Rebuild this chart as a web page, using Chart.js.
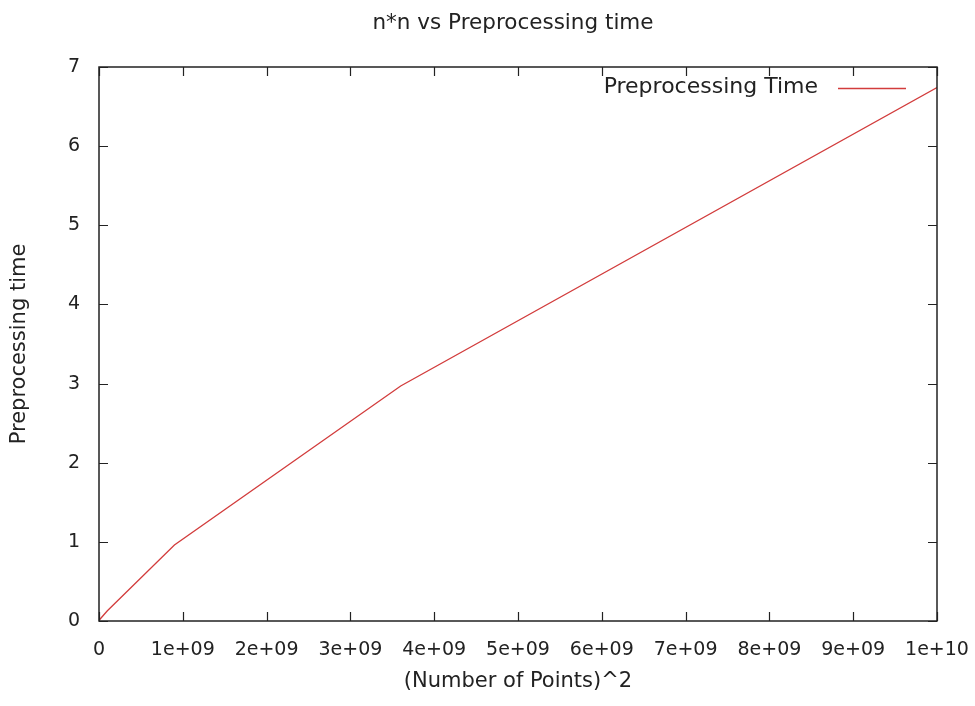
<!DOCTYPE html>
<html>
<head>
<meta charset="utf-8">
<title>n*n vs Preprocessing time</title>
<script src="https://cdn.jsdelivr.net/npm/chart.js@4/dist/chart.umd.min.js"></script>
<style>
  html, body { margin: 0; padding: 0; background: #fff; }
  #wrap { width: 975px; height: 706px; }
</style>
</head>
<body>
<div id="wrap"><canvas id="c" width="975" height="706"></canvas></div>
<script>
// Number of points squared vs measured preprocessing time
const nSquared = [1e6, 1e8, 9e8, 3.6e9, 1e10];
const prepTime = [0.01, 0.13, 0.96, 2.97, 6.74];

const xTickLabels = ['0', '1e+09', '2e+09', '3e+09', '4e+09', '5e+09', '6e+09', '7e+09', '8e+09', '9e+09', '1e+10'];
const yTickLabels = ['0', '1', '2', '3', '4', '5', '6', '7'];

const chartTitle = 'n*n vs Preprocessing time';
const seriesName = 'Preprocessing Time';
const lineColor = '#d23c3c';
const inkColor = '#222222';
const fontFamily = '"DejaVu Sans", "Liberation Sans", Arial, sans-serif';

// gnuplot-style frame with inward ticks mirrored on all four sides
const framePlugin = {
  id: 'frame',
  afterDraw(chart) {
    const { ctx, chartArea: a, scales } = chart;
    const len = 9;
    ctx.save();
    ctx.strokeStyle = inkColor;
    ctx.lineWidth = 1.5;
    ctx.strokeRect(a.left, a.top, a.right - a.left, a.bottom - a.top);
    ctx.lineWidth = 1.2;
    ctx.beginPath();
    scales.x.ticks.forEach(t => {
      const px = Math.round(scales.x.getPixelForValue(t.value)) + 0.5;
      ctx.moveTo(px, a.bottom); ctx.lineTo(px, a.bottom - len);
      ctx.moveTo(px, a.top); ctx.lineTo(px, a.top + len);
    });
    scales.y.ticks.forEach(t => {
      const py = Math.round(scales.y.getPixelForValue(t.value)) + 0.5;
      ctx.moveTo(a.left, py); ctx.lineTo(a.left + len, py);
      ctx.moveTo(a.right, py); ctx.lineTo(a.right - len, py);
    });
    ctx.stroke();
    ctx.restore();
  }
};

// title centred over the plot box, plus the key in its top-right corner
const labelsPlugin = {
  id: 'labels',
  afterDraw(chart) {
    const { ctx, chartArea: a } = chart;
    const ds = chart.data.datasets[0];
    ctx.save();
    ctx.fillStyle = inkColor;
    ctx.textBaseline = 'middle';

    ctx.font = '21.5px ' + fontFamily;
    ctx.textAlign = 'center';
    ctx.fillText(chartTitle, (a.left + a.right) / 2 - 5, 23);

    const lineEnd = a.right - 31;
    const lineStart = lineEnd - 68;
    const y = a.top + 21;
    ctx.font = '22px ' + fontFamily;
    ctx.textAlign = 'right';
    ctx.fillText(ds.label, lineStart - 20, y - 1);
    ctx.strokeStyle = ds.borderColor;
    ctx.lineWidth = ds.borderWidth;
    ctx.beginPath();
    ctx.moveTo(lineStart, y + 0.5);
    ctx.lineTo(lineEnd, y + 0.5);
    ctx.stroke();
    ctx.restore();
  }
};

new Chart(document.getElementById('c'), {
  type: 'line',
  data: {
    datasets: [{
      label: seriesName,
      data: nSquared.map((x, i) => ({ x: x, y: prepTime[i] })),
      borderColor: lineColor,
      borderWidth: 1.3,
      pointRadius: 0,
      tension: 0,
      fill: false
    }]
  },
  options: {
    responsive: false,
    animation: false,
    devicePixelRatio: 1,
    layout: { padding: { left: 0, right: 38, top: 67, bottom: 0 } },
    plugins: {
      legend: { display: false },
      tooltip: { enabled: false },
      title: { display: false }
    },
    scales: {
      x: {
        type: 'linear',
        min: 0,
        max: 1e10,
        afterFit(scale) {
          scale.height = 85;
          scale.paddingLeft = 0;
          scale.paddingRight = 0;
        },
        afterBuildTicks(scale) {
          scale.ticks = xTickLabels.map((_, i) => ({ value: i * 1e9 }));
        },
        grid: { display: false, drawTicks: false },
        border: { display: false },
        ticks: {
          color: inkColor,
          font: { family: fontFamily, size: 19 },
          padding: 18,
          maxRotation: 0,
          autoSkip: false,
          callback: (v, i) => xTickLabels[i]
        },
        title: {
          display: true,
          text: '(Number of Points)^2',
          color: inkColor,
          font: { family: fontFamily, size: 21 },
          padding: { top: 0, bottom: 12 }
        }
      },
      y: {
        type: 'linear',
        min: 0,
        max: 7,
        afterFit(scale) {
          scale.width = 99;
          scale.paddingTop = 0;
          scale.paddingBottom = 0;
        },
        afterBuildTicks(scale) {
          scale.ticks = yTickLabels.map((_, i) => ({ value: i }));
        },
        grid: { display: false, drawTicks: false },
        border: { display: false },
        ticks: {
          color: inkColor,
          font: { family: fontFamily, size: 19 },
          padding: 19,
          autoSkip: false,
          callback: (v, i) => yTickLabels[i]
        },
        title: {
          display: true,
          text: 'Preprocessing time',
          color: inkColor,
          font: { family: fontFamily, size: 21 },
          padding: { top: 7, bottom: 0 }
        }
      }
    }
  },
  plugins: [framePlugin, labelsPlugin]
});
</script>
</body>
</html>
